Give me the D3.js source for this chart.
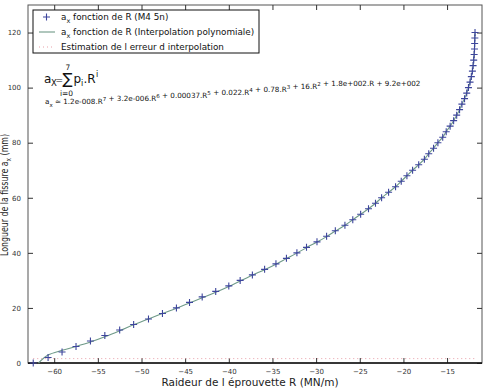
<!DOCTYPE html>
<html>
<head>
<meta charset="utf-8">
<script src="https://cdn.jsdelivr.net/npm/d3@7"></script>
<style>
  body { margin: 0; background: #fff; }
  svg { display: block; font-family: "DejaVu Sans", Verdana, sans-serif; }
</style>
</head>
<body>
<div id="chart"></div>
<script>
// mesures (M4 5n) : raideur R (MN/m) et longueur de fissure a_x (mm)
const measR = [-62.4, -60.7, -59.1, -57.5, -55.85, -54.2, -52.5, -50.9, -49.2, -47.6,
  -46.0, -44.5, -43.05, -41.5, -40.0, -38.7, -37.3, -35.9, -34.6, -33.4,
  -32.2, -31.1, -29.9, -28.8, -27.8, -26.7, -25.8, -24.9, -24.0, -23.2,
  -22.5, -21.7, -20.9, -20.25, -19.6, -18.95, -18.25, -17.6, -17.1, -16.55,
  -16.05, -15.5, -15.1, -14.65, -14.25, -13.9, -13.57, -13.3, -13.0, -12.75,
  -12.55, -12.37, -12.22, -12.1, -12.02, -11.95, -11.9, -11.86, -11.84, -11.82, -11.8];
const measA = [0, 2, 4, 6, 8, 10, 12, 14, 16, 18,
  20, 22, 24, 26, 28, 30, 32, 34, 36, 38,
  40, 42, 44, 46, 48, 50, 52, 54, 56, 58,
  60, 62, 64, 66, 68, 70, 72, 74, 76, 78,
  80, 82, 84, 86, 88, 90, 92, 94, 96, 98,
  100, 102, 104, 106, 108, 110, 112, 114, 116, 118, 120];

// interpolation polynomiale
const fitR = [-61.8, -60.7, -59.1, -57.5, -55.85, -54.2, -52.5, -50.9, -49.2, -47.6,
  -46.0, -44.5, -43.05, -41.5, -40.0, -38.7, -37.3, -35.9, -34.6, -33.4,
  -32.2, -31.1, -29.9, -28.8, -27.8, -26.7, -25.8, -24.9, -24.0, -23.2,
  -22.5, -21.7, -20.9, -20.25, -19.6, -18.95, -18.25, -17.6, -17.1, -16.55,
  -16.05, -15.5, -15.1, -14.65, -14.25, -13.9, -13.57, -13.3, -13.0, -12.75,
  -12.55, -12.37, -12.22, -12.1, -12.02, -11.95, -11.9, -11.86, -11.84, -11.82, -11.8];
const fitA = [0, 2.9, 4.6, 6.0, 7.6, 9.5, 11.7, 13.9, 16.0, 18.0,
  19.9, 21.8, 23.7, 25.7, 27.8, 29.8, 31.9, 33.9, 35.9, 37.9,
  39.9, 41.9, 43.9, 45.9, 47.9, 50, 52, 54, 56, 58,
  60, 62, 64, 66, 68, 70, 72, 74, 76, 78,
  80, 82, 84, 86, 88, 90, 92, 94, 96, 98,
  100, 102, 104, 106, 108, 110, 112, 114, 116, 118, 120];

// estimation de l'erreur d'interpolation
const errR = [-62.4, -50, -40, -30, -20, -11.8];
const errA = [1.6, 1.6, 1.6, 1.6, 1.6, 1.6];

const xTicks = [-60, -55, -50, -45, -40, -35, -30, -25, -20, -15];
const yTicks = [0, 20, 40, 60, 80, 100, 120];

const W = 484, H = 392;
const margin = {top: 5, right: 2, bottom: 29, left: 28};
const width = W - margin.left - margin.right,
      height = H - margin.top - margin.bottom;

const svg = d3.select("#chart").append("svg")
    .attr("width", W).attr("height", H);
const g = svg.append("g")
    .attr("transform", "translate(" + margin.left + "," + margin.top + ")");

const x = d3.scaleLinear().domain([-63, -11]).range([0, width]);
const y = d3.scaleLinear().domain([0, 130]).range([height, 0]);

// frame
g.append("rect").attr("width", width).attr("height", height)
    .attr("fill", "#fff").attr("stroke", "#555").attr("stroke-width", 1);

function styleAxis(sel) {
    sel.select(".domain").remove();
    sel.selectAll("line").attr("stroke", "#333");
    sel.selectAll("text").attr("fill", "#333").style("font-size", "7px")
        .style("font-family", "DejaVu Sans, sans-serif");
}

g.append("g").attr("transform", "translate(0," + height + ")")
    .call(d3.axisBottom(x).tickValues(xTicks).tickSize(-5).tickPadding(6))
    .call(styleAxis);
g.append("g").attr("transform", "translate(0,0)")
    .call(d3.axisTop(x).tickValues(xTicks).tickSize(-5).tickFormat(""))
    .call(styleAxis);
g.append("g")
    .call(d3.axisLeft(y).tickValues(yTicks).tickSize(-5).tickPadding(7))
    .call(styleAxis);
g.append("g").attr("transform", "translate(" + width + ",0)")
    .call(d3.axisRight(y).tickValues(yTicks).tickSize(-5).tickFormat(""))
    .call(styleAxis);

// bottom axis line thicker
g.append("line").attr("x1", 0).attr("x2", width)
    .attr("y1", height).attr("y2", height)
    .attr("stroke", "#111").attr("stroke-width", 1.6);

// error line
const errData = errR.map((r, i) => [r, errA[i]]);
g.append("path").datum(errData)
    .attr("fill", "none").attr("stroke", "#e8a0a8").attr("stroke-width", 1)
    .attr("stroke-dasharray", "1,3")
    .attr("d", d3.line().x(d => x(d[0])).y(d => y(d[1])));

// interpolation curve
const fitData = fitR.map((r, i) => [r, fitA[i]]);
g.append("path").datum(fitData)
    .attr("fill", "none").attr("stroke", "#6f9a88").attr("stroke-width", 1.1)
    .attr("d", d3.line().x(d => x(d[0])).y(d => y(d[1])).curve(d3.curveCatmullRom));

// markers
const ms = 3.5;
const measData = measR.map((r, i) => [r, measA[i]]);
g.selectAll(".pt").data(measData).enter().append("path")
    .attr("class", "pt")
    .attr("d", d => {
        const px = x(d[0]), py = y(d[1]);
        return "M" + (px - ms) + "," + py + "H" + (px + ms) +
               "M" + px + "," + (py - ms) + "V" + (py + ms);
    })
    .attr("stroke", "#3d459c").attr("stroke-width", 1.1).attr("fill", "none");

// legend
const leg = svg.append("g");
leg.append("rect").attr("x", 33).attr("y", 10).attr("width", 226).attr("height", 43)
    .attr("fill", "#fff").attr("stroke", "#111").attr("stroke-width", 1);
const legItems = [
    {label: " fonction de R (M4 5n)", kind: "pt"},
    {label: " fonction de R (Interpolation polynomiale)", kind: "line"},
    {label: "Estimation de l erreur d interpolation", kind: "err"}
];
legItems.forEach((it, i) => {
    const cy = 17 + i * 15;
    if (it.kind === "pt") {
        leg.append("path")
            .attr("d", "M43," + cy + "H50M46.5," + (cy - 3.5) + "V" + (cy + 3.5))
            .attr("stroke", "#3d459c").attr("stroke-width", 1.1);
    } else if (it.kind === "line") {
        leg.append("line").attr("x1", 39).attr("x2", 55).attr("y1", cy).attr("y2", cy)
            .attr("stroke", "#6f9a88").attr("stroke-width", 1.1);
    } else {
        leg.append("line").attr("x1", 39).attr("x2", 55).attr("y1", cy).attr("y2", cy)
            .attr("stroke", "#e8a0a8").attr("stroke-width", 1).attr("stroke-dasharray", "1,3");
    }
    const t = leg.append("text").attr("x", 61).attr("y", cy + 2.5)
        .style("font-size", "8.8px").attr("fill", "#111");
    if (it.kind !== "err") {
        t.append("tspan").text("a");
        t.append("tspan").attr("dy", 3).style("font-size", "6.5px").text("x");
        t.append("tspan").attr("dy", -3).text(it.label);
    } else {
        t.text(it.label);
    }
});

// formula
const f = svg.append("g").attr("fill", "#111");
f.append("text").attr("x", 44).attr("y", 83).style("font-size", "12px").text("a");
f.append("text").attr("x", 51).attr("y", 85.5).style("font-size", "8.5px").text("X");
f.append("text").attr("x", 55.5).attr("y", 83).style("font-size", "9px").text("=");
f.append("text").attr("x", 62.5).attr("y", 84).style("font-size", "15px").text("\u2211");
f.append("text").attr("x", 65.5).attr("y", 69.5).style("font-size", "7.5px").text("7");
f.append("text").attr("x", 60).attr("y", 96).style("font-size", "7.5px").text("i=0");
f.append("text").attr("x", 73.5).attr("y", 83).style("font-size", "12px").text("p");
f.append("text").attr("x", 81).attr("y", 85.5).style("font-size", "8px").text("i");
f.append("text").attr("x", 83.5).attr("y", 83).style("font-size", "12px").text(".R");
f.append("text").attr("x", 96).attr("y", 77).style("font-size", "8px").text("i");

const coefs = ["1.2e-008", "3.2e-006", "0.00037", "0.022", "0.78", "16", "1.8e+002", "9.2e+002"];
const small = f.append("text").attr("x", 45).attr("y", 104).style("font-size", "7.2px");
small.append("tspan").text("a");
small.append("tspan").attr("dy", 2.5).style("font-size", "5.5px").text("x");
small.append("tspan").attr("dy", -2.5).text(" \u2248 ");
coefs.forEach((c, i) => {
    const p = 7 - i;
    const pre = i === 0 ? "" : " + ";
    if (p >= 2) {
        small.append("tspan").text(pre + c + ".R");
        small.append("tspan").attr("dy", -3).style("font-size", "5.5px").text(p);
        small.append("tspan").attr("dy", 3).text("");
    } else if (p === 1) {
        small.append("tspan").text(pre + c + ".R");
    } else {
        small.append("tspan").text(pre + c);
    }
});

// axis titles
svg.append("text").attr("x", 250).attr("y", 386).attr("text-anchor", "middle")
    .style("font-size", "10.5px").attr("fill", "#222")
    .text("Raideur de l \u00e9prouvette R (MN/m)");
const yl = svg.append("text")
    .attr("transform", "translate(7.5,195) rotate(-90)")
    .attr("text-anchor", "middle").style("font-size", "10px").attr("fill", "#222")
    .attr("textLength", 122).attr("lengthAdjust", "spacingAndGlyphs");
yl.append("tspan").text("Longueur de la fissure a");
yl.append("tspan").attr("dy", 3).style("font-size", "7.5px").text("x");
yl.append("tspan").attr("dy", -3).text(" (mm)");
</script>
</body>
</html>
